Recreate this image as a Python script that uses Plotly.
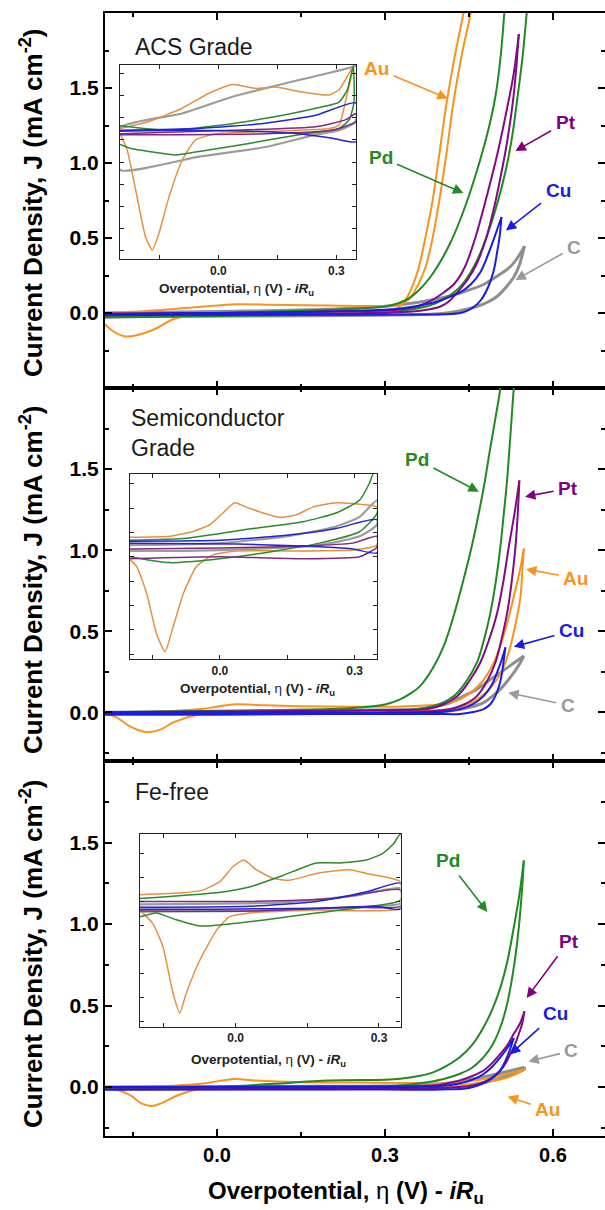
import plotly.graph_objects as go

# ---------------- data: main panels (V vs mA cm^-2), each loop traced forward then back -------------
ACS_AU = [(-0.20, 0.000), (-0.15, 0.008), (-0.10, 0.020), (-0.05, 0.035), (0.00, 0.050), (0.04, 0.058),
          (0.10, 0.055), (0.20, 0.050), (0.28, 0.047), (0.32, 0.052), (0.335, 0.072), (0.345, 0.100),
          (0.358, 0.180), (0.372, 0.300), (0.385, 0.500), (0.397, 0.750), (0.410, 1.070), (0.422, 1.400),
          (0.437, 1.720), (0.453, 2.000), (0.465, 2.300),
          (0.452, 2.300), (0.440, 2.000), (0.425, 1.720), (0.410, 1.400), (0.397, 1.060), (0.385, 0.750),
          (0.372, 0.500), (0.360, 0.300), (0.347, 0.160), (0.337, 0.090), (0.325, 0.040), (0.30, 0.010),
          (0.20, 0.000), (0.10, -0.005), (0.00, -0.008), (-0.04, -0.013), (-0.077, -0.040), (-0.11, -0.105),
          (-0.14, -0.145), (-0.166, -0.155), (-0.19, -0.110), (-0.20, -0.073)]
ACS_PD = [(-0.20, -0.030), (-0.10, -0.025), (0.00, -0.020), (0.10, -0.015), (0.20, -0.010), (0.30, 0.000),
          (0.34, 0.020), (0.38, 0.050), (0.404, 0.090), (0.424, 0.140), (0.440, 0.200), (0.463, 0.340),
          (0.484, 0.534), (0.502, 0.750), (0.517, 0.975), (0.528, 1.200), (0.536, 1.420), (0.546, 1.720),
          (0.553, 2.000), (0.560, 2.300),
          (0.517, 2.300), (0.513, 2.000), (0.505, 1.660), (0.497, 1.440), (0.487, 1.260), (0.476, 1.100),
          (0.461, 0.910), (0.446, 0.740), (0.432, 0.600), (0.417, 0.470), (0.400, 0.350), (0.381, 0.240),
          (0.360, 0.150), (0.339, 0.090), (0.31, 0.050), (0.25, 0.030), (0.10, 0.010), (0.00, 0.000),
          (-0.10, -0.010), (-0.20, -0.020)]
ACS_PT = [(-0.20, -0.015), (0.00, -0.010), (0.20, -0.005), (0.35, 0.010), (0.38, 0.025), (0.40, 0.045),
          (0.415, 0.080), (0.429, 0.137), (0.447, 0.220), (0.464, 0.330), (0.480, 0.490), (0.494, 0.690),
          (0.506, 0.900), (0.518, 1.140), (0.530, 1.460), (0.539, 1.860),
          (0.530, 1.600), (0.521, 1.420), (0.500, 1.050), (0.479, 0.740), (0.462, 0.510), (0.443, 0.310),
          (0.425, 0.200), (0.405, 0.137), (0.37, 0.060), (0.33, 0.025), (0.20, 0.010), (0.00, 0.000),
          (-0.20, -0.005)]
ACS_CU = [(-0.20, -0.012), (0.00, -0.012), (0.20, -0.012), (0.357, -0.010), (0.417, -0.007), (0.440, 0.005),
          (0.458, 0.038), (0.472, 0.090), (0.485, 0.180), (0.494, 0.280), (0.500, 0.400), (0.505, 0.520),
          (0.508, 0.640),
          (0.494, 0.490), (0.483, 0.380), (0.470, 0.270), (0.453, 0.190), (0.434, 0.137), (0.410, 0.100),
          (0.387, 0.070), (0.327, 0.030), (0.20, 0.010), (0.00, 0.000), (-0.20, -0.005)]
ACS_C = [(-0.20, -0.025), (0.10, -0.020), (0.30, -0.015), (0.387, -0.007), (0.420, 0.005), (0.446, 0.026),
         (0.465, 0.045), (0.482, 0.070), (0.500, 0.110), (0.518, 0.180), (0.530, 0.240), (0.539, 0.310),
         (0.549, 0.446),
         (0.537, 0.370), (0.524, 0.310), (0.500, 0.245), (0.476, 0.190), (0.447, 0.150), (0.417, 0.115),
         (0.387, 0.090), (0.357, 0.070), (0.30, 0.045), (0.20, 0.025), (0.00, 0.010), (-0.20, 0.000)]

SEMI_AU = [(-0.20, 0.000), (-0.10, 0.005), (-0.03, 0.020), (0.00, 0.035), (0.034, 0.050), (0.07, 0.045),
           (0.15, 0.038), (0.25, 0.035), (0.32, 0.035), (0.36, 0.040), (0.40, 0.050), (0.434, 0.080),
           (0.456, 0.130), (0.476, 0.200), (0.492, 0.290), (0.506, 0.410), (0.519, 0.560), (0.530, 0.714),
           (0.540, 0.860), (0.548, 1.010),
           (0.545, 0.860), (0.542, 0.714), (0.534, 0.560), (0.524, 0.408), (0.513, 0.290), (0.500, 0.204),
           (0.483, 0.130), (0.464, 0.080), (0.440, 0.040), (0.417, 0.020), (0.35, 0.005), (0.20, 0.000),
           (0.00, -0.005), (-0.028, -0.010), (-0.077, -0.060), (-0.10, -0.105), (-0.122, -0.122),
           (-0.14, -0.110), (-0.158, -0.082), (-0.18, -0.030), (-0.20, -0.010)]
SEMI_PD = [(-0.20, 0.000), (0.00, 0.010), (0.20, 0.020), (0.253, 0.030), (0.302, 0.050), (0.327, 0.080),
           (0.345, 0.115), (0.363, 0.163), (0.385, 0.270), (0.405, 0.410), (0.423, 0.600), (0.440, 0.816),
           (0.454, 1.010), (0.467, 1.220), (0.478, 1.420), (0.488, 1.630), (0.497, 1.810), (0.506, 2.000),
           (0.515, 2.300),
           (0.538, 2.300), (0.530, 2.000), (0.524, 1.710), (0.518, 1.430), (0.512, 1.220), (0.506, 1.020),
           (0.498, 0.810), (0.488, 0.610), (0.477, 0.450), (0.464, 0.306), (0.445, 0.190), (0.423, 0.100),
           (0.400, 0.055), (0.375, 0.030), (0.30, 0.000), (0.00, -0.010), (-0.20, -0.010)]
SEMI_PT = [(-0.20, 0.000), (0.00, 0.005), (0.20, 0.010), (0.30, 0.015), (0.375, 0.020), (0.405, 0.050),
           (0.429, 0.100), (0.450, 0.190), (0.470, 0.306), (0.486, 0.450), (0.500, 0.610), (0.511, 0.800),
           (0.521, 1.020), (0.531, 1.220), (0.540, 1.430),
           (0.537, 1.220), (0.533, 1.020), (0.526, 0.800), (0.518, 0.610), (0.508, 0.450), (0.497, 0.306),
           (0.482, 0.190), (0.464, 0.100), (0.442, 0.050), (0.417, 0.020), (0.35, 0.000), (0.20, -0.010),
           (0.00, -0.015), (-0.20, -0.015)]
SEMI_CU = [(-0.20, 0.000), (0.20, 0.000), (0.386, 0.000), (0.410, 0.005), (0.434, 0.020), (0.457, 0.050),
           (0.476, 0.100), (0.490, 0.165), (0.500, 0.245), (0.508, 0.320), (0.515, 0.400),
           (0.512, 0.320), (0.509, 0.245), (0.504, 0.165), (0.497, 0.100), (0.488, 0.050), (0.476, 0.020),
           (0.455, 0.000), (0.434, -0.010), (0.386, -0.010), (0.20, -0.010), (-0.20, -0.010)]
SEMI_C = [(-0.20, 0.000), (0.20, 0.010), (0.30, 0.015), (0.363, 0.020), (0.390, 0.035), (0.417, 0.060),
          (0.440, 0.100), (0.464, 0.143), (0.485, 0.195), (0.506, 0.245), (0.527, 0.296), (0.548, 0.347),
          (0.540, 0.296), (0.530, 0.245), (0.518, 0.190), (0.506, 0.143), (0.492, 0.100), (0.476, 0.060),
          (0.450, 0.030), (0.417, 0.010), (0.30, 0.000), (-0.20, -0.005)]

FE_AU = [(-0.20, 0.000), (-0.10, 0.005), (-0.03, 0.020), (0.00, 0.035), (0.03, 0.050), (0.07, 0.040),
         (0.15, 0.030), (0.25, 0.028), (0.35, 0.025), (0.40, 0.022), (0.45, 0.035), (0.50, 0.065),
         (0.550, 0.110),
         (0.520, 0.060), (0.480, 0.030), (0.440, 0.012), (0.40, 0.005), (0.30, 0.000), (0.00, -0.005),
         (-0.03, -0.010), (-0.07, -0.050), (-0.10, -0.100), (-0.118, -0.116), (-0.135, -0.100),
         (-0.155, -0.050), (-0.18, -0.015), (-0.20, -0.005)]
FE_PD = [(-0.20, -0.005), (0.00, 0.000), (0.10, 0.020), (0.20, 0.040), (0.30, 0.045), (0.327, 0.051),
         (0.360, 0.068), (0.387, 0.092), (0.410, 0.130), (0.434, 0.184), (0.456, 0.260), (0.476, 0.367),
         (0.492, 0.480), (0.506, 0.610), (0.519, 0.780), (0.530, 0.980), (0.540, 1.180), (0.548, 1.390),
         (0.544, 1.180), (0.539, 0.980), (0.532, 0.780), (0.524, 0.610), (0.516, 0.480), (0.506, 0.367),
         (0.492, 0.260), (0.476, 0.184), (0.456, 0.120), (0.434, 0.082), (0.405, 0.050), (0.375, 0.030),
         (0.327, 0.010), (0.20, 0.000), (0.00, -0.010), (-0.20, -0.015)]
FE_PT = [(-0.20, 0.000), (0.20, 0.005), (0.387, 0.010), (0.410, 0.022), (0.434, 0.041), (0.456, 0.068),
         (0.476, 0.102), (0.492, 0.150), (0.506, 0.204), (0.519, 0.260), (0.530, 0.327), (0.541, 0.390),
         (0.549, 0.465),
         (0.545, 0.390), (0.539, 0.327), (0.532, 0.260), (0.524, 0.204), (0.516, 0.150), (0.506, 0.102),
         (0.492, 0.060), (0.476, 0.030), (0.456, 0.010), (0.434, 0.000), (0.30, -0.010), (-0.20, -0.015)]
FE_CU = [(-0.20, 0.000), (0.20, 0.000), (0.39, 0.005), (0.43, 0.020), (0.46, 0.050), (0.476, 0.080),
         (0.49, 0.120), (0.51, 0.200), (0.53, 0.300),
         (0.525, 0.250), (0.52, 0.200), (0.505, 0.100), (0.48, 0.030), (0.45, -0.005), (0.40, -0.015),
         (0.30, -0.015), (-0.20, -0.015)]
FE_C = [(-0.20, 0.000), (0.20, 0.005), (0.35, 0.010), (0.40, 0.020), (0.45, 0.045), (0.50, 0.080),
        (0.549, 0.122),
        (0.549, 0.110), (0.52, 0.070), (0.48, 0.030), (0.44, 0.010), (0.40, 0.000), (0.20, -0.010),
        (-0.20, -0.010)]

# ---------------- data: insets ----------------
ACS_IN_AU = [(-0.25, -0.012), (-0.176, -0.004), (-0.092, 0.011), (-0.024, 0.028), (0.036, 0.038),
             (0.095, 0.0335), (0.146, 0.035), (0.205, 0.030), (0.282, 0.026), (0.307, 0.032), (0.328, 0.047),
             (0.343, 0.059), (0.324, 0.020), (0.307, -0.008), (0.282, -0.012), (0.205, -0.014), (0.078, -0.016),
             (-0.007, -0.018), (-0.058, -0.025), (-0.092, -0.048), (-0.125, -0.089), (-0.151, -0.131),
             (-0.168, -0.150), (-0.185, -0.135), (-0.21, -0.082), (-0.232, -0.036), (-0.25, -0.018)]
ACS_IN_C = [(-0.25, -0.059), (-0.25, -0.011), (-0.092, 0.005), (0.036, 0.024), (0.205, 0.043), (0.343, 0.058),
            (0.35, 0.060), (0.35, -0.004), (0.307, -0.014), (0.248, -0.019), (0.12, -0.033), (-0.049, -0.044),
            (-0.25, -0.059)]
ACS_IN_PD = [(-0.25, -0.009), (-0.134, -0.014), (-0.007, -0.009), (0.12, -0.0005), (0.248, 0.011),
             (0.307, 0.018), (0.328, 0.032), (0.343, 0.059), (0.345, 0.018), (0.333, -0.002), (0.307, -0.012),
             (0.205, -0.019), (0.078, -0.029), (-0.049, -0.038), (-0.108, -0.042), (-0.176, -0.038),
             (-0.219, -0.035), (-0.25, -0.030)]
ACS_IN_CU = [(-0.25, -0.014), (-0.049, -0.012), (0.12, -0.006), (0.248, 0.003), (0.35, 0.017), (0.35, -0.027),
             (0.29, -0.023), (0.205, -0.018), (0.078, -0.015), (-0.092, -0.014), (-0.25, -0.015)]
ACS_IN_PT = [(-0.25, -0.018), (0.036, -0.014), (0.248, -0.010), (0.324, -0.002), (0.35, 0.005), (0.35, -0.004),
             (0.29, -0.014), (0.12, -0.018), (-0.092, -0.019), (-0.25, -0.019)]

SEMI_IN_AU = [(-0.2, -0.005), (-0.111, -0.004), (-0.059, 0.001), (-0.022, 0.008), (0.007, 0.020),
              (0.033, 0.0305), (0.059, 0.026), (0.096, 0.020), (0.133, 0.0155), (0.17, 0.018), (0.207, 0.026),
              (0.259, 0.0305), (0.311, 0.029), (0.35, 0.026), (0.35, -0.013), (0.296, -0.018), (0.148, -0.019),
              (0.037, -0.019), (-0.015, -0.023), (-0.052, -0.035), (-0.081, -0.0625), (-0.104, -0.097),
              (-0.122, -0.1225), (-0.141, -0.104), (-0.163, -0.0625), (-0.185, -0.035), (-0.2, -0.028)]
SEMI_IN_PD = [(-0.2, -0.008), (-0.074, -0.006), (0.074, 0.004), (0.185, 0.011), (0.259, 0.020), (0.311, 0.033),
              (0.333, 0.0505), (0.342, 0.0613), (0.35, 0.066), (0.35, 0.0196), (0.311, 0.0007), (0.222, -0.011),
              (0.111, -0.020), (0.0, -0.027), (-0.111, -0.031), (-0.163, -0.028), (-0.2, -0.025)]
SEMI_IN_C = [(-0.2, -0.013), (0.0, -0.011), (0.148, -0.004), (0.259, 0.006), (0.311, 0.016), (0.35, 0.033),
             (0.35, 0.008), (0.311, -0.004), (0.222, -0.013), (0.074, -0.017), (-0.074, -0.019), (-0.2, -0.019)]
SEMI_IN_CU = [(-0.2, -0.009), (0.0, -0.008), (0.148, -0.003), (0.259, 0.004), (0.35, 0.013), (0.35, -0.021),
              (0.296, -0.017), (0.185, -0.014), (0.037, -0.012), (-0.2, -0.011)]
SEMI_IN_PT = [(-0.2, -0.017), (0.0, -0.016), (0.185, -0.014), (0.296, -0.011), (0.35, -0.004), (0.35, -0.015),
              (0.311, -0.025), (0.185, -0.027), (0.0, -0.025), (-0.2, -0.027)]

FE_IN_AU = [(-0.2, 0.007), (-0.11, 0.009), (-0.068, 0.012), (-0.033, 0.0205), (-0.006, 0.036), (0.017, 0.043),
            (0.043, 0.033), (0.078, 0.024), (0.113, 0.022), (0.169, 0.029), (0.239, 0.033), (0.274, 0.029),
            (0.345, 0.0205), (0.345, -0.007), (0.169, -0.009), (0.029, -0.012), (-0.013, -0.016),
            (-0.04, -0.030), (-0.075, -0.061), (-0.103, -0.095), (-0.117, -0.116), (-0.131, -0.095),
            (-0.152, -0.047), (-0.173, -0.023), (-0.2, -0.009)]
FE_IN_PD = [(-0.2, 0.003), (-0.04, 0.009), (0.029, 0.015), (0.099, 0.027), (0.169, 0.040), (0.218, 0.040),
            (0.274, 0.043), (0.308, 0.050), (0.329, 0.059), (0.345, 0.070), (0.345, 0.0015), (0.274, -0.0055),
            (0.169, -0.012), (0.064, -0.019), (-0.006, -0.023), (-0.075, -0.0255), (-0.124, -0.019),
            (-0.166, -0.012), (-0.2, -0.016)]
FE_IN_CU = [(-0.2, -0.006), (0.029, -0.005), (0.169, 0.0), (0.274, 0.010), (0.345, 0.019), (0.345, -0.008),
            (0.294, -0.005), (0.169, -0.007), (-0.04, -0.008), (-0.2, -0.008)]
FE_IN_PT = [(-0.2, 0.0), (0.029, 0.0), (0.204, 0.003), (0.345, 0.012), (0.345, -0.005), (0.239, -0.006),
            (0.029, -0.010), (-0.2, -0.010)]
FE_IN_C = [(-0.2, -0.003), (0.1, -0.001), (0.25, 0.006), (0.345, 0.0136), (0.345, -0.002), (0.2, -0.007),
           (0.0, -0.010), (-0.2, -0.0106)]

PANEL_NAMES = ["ACS Grade", "Semiconductor<br>Grade", "Fe-free"]
MAIN_Y_TICKS = [0.0, 0.5, 1.0, 1.5]
MAIN_Y_TICKTEXT = ["0.0", "0.5", "1.0", "1.5"]
MAIN_Y_MINOR = [-0.25, 0.25, 0.75, 1.25, 1.75]
MAIN_X_TICKS = [0.0, 0.3, 0.6]
MAIN_X_TICKTEXT = ["0.0", "0.3", "0.6"]
MAIN_X_MINOR = [-0.15, 0.15, 0.45]
INSET_X_TICKS = [0.0, 0.3]
INSET_X_TICKTEXT = ["0.0", "0.3"]
INSET_X_MINOR = [-0.15, 0.15]

# metal labels with arrows: (panel, metal, arrow tip V, tip J, label V, label J)
LABELS = [
    (1, "Au", 0.412, 1.43, 0.285, 1.63),
    (1, "Pd", 0.440, 0.80, 0.292, 1.04),
    (1, "Pt", 0.533, 1.08, 0.6225, 1.27),
    (1, "Cu", 0.516, 0.55, 0.609, 0.82),
    (1, "C", 0.533, 0.22, 0.6377, 0.44),
    (2, "Pd", 0.4675, 1.36, 0.357, 1.56),
    (2, "Pt", 0.550, 1.33, 0.627, 1.38),
    (2, "Au", 0.5518, 0.883, 0.641, 0.826),
    (2, "Cu", 0.530, 0.404, 0.633, 0.503),
    (2, "C", 0.520, 0.121, 0.626, 0.045),
    (3, "Pd", 0.4827, 1.074, 0.4116, 1.39),
    (3, "Pt", 0.553, 0.546, 0.628, 0.894),
    (3, "Cu", 0.5232, 0.200, 0.605, 0.454),
    (3, "C", 0.556, 0.157, 0.633, 0.223),
    (3, "Au", 0.519, -0.058, 0.5905, -0.139),
]

# ---------------- styling ----------------
FONT = "Liberation Sans"
MAIN_COL = {"Au": "#F7931E", "Pd": "#1F8A1F", "Pt": "#820A82", "Cu": "#1A1AE6", "C": "#8E8E8E"}
INS_COL = {"Au": "#E4913F", "Pd": "#2B8A2B", "Pt": "#7E2A80", "Cu": "#2323D0", "C": "#9C9C9C"}
LBL_COL = {"Au": "#F7931E", "Pd": "#228B22", "Pt": "#800080", "Cu": "#1A1AE6", "C": "#999999"}

W, H = 605, 1210
ML, MR, MT, MB = 105, 0, 13, 74
PW, PH = W - ML - MR, H - MT - MB


def xd(l, r):
    return [(l - ML) / PW, (r - ML) / PW]


def yd(top, bot):
    return [(H - MB - bot) / PH, (H - MB - top) / PH]


panels = [
    dict(main={"C": ACS_C, "Au": ACS_AU, "Pd": ACS_PD, "Pt": ACS_PT, "Cu": ACS_CU},
         inset={"C": ACS_IN_C, "Au": ACS_IN_AU, "Pd": ACS_IN_PD, "Pt": ACS_IN_PT, "Cu": ACS_IN_CU},
         ydom=yd(13, 388), yrange=[-0.5, 2.0],
         ixdom=xd(120, 356), iydom=yd(65, 259), ixrange=[-0.25, 0.35], iyrange=[-0.16, 0.06]),
    dict(main={"C": SEMI_C, "Au": SEMI_AU, "Pd": SEMI_PD, "Pt": SEMI_PT, "Cu": SEMI_CU},
         inset={"C": SEMI_IN_C, "Au": SEMI_IN_AU, "Pd": SEMI_IN_PD, "Pt": SEMI_IN_PT, "Cu": SEMI_IN_CU},
         ydom=yd(388, 761), yrange=[-0.3, 2.0],
         ixdom=xd(130, 377), iydom=yd(474, 659), ixrange=[-0.2, 0.35], iyrange=[-0.13, 0.06]),
    dict(main={"C": FE_C, "Au": FE_AU, "Pd": FE_PD, "Pt": FE_PT, "Cu": FE_CU},
         inset={"C": FE_IN_C, "Au": FE_IN_AU, "Pd": FE_IN_PD, "Pt": FE_IN_PT, "Cu": FE_IN_CU},
         ydom=yd(761, 1136), yrange=[-0.3, 2.0],
         ixdom=xd(140, 400.5), iydom=yd(834, 1026.7), ixrange=[-0.2, 0.345], iyrange=[-0.13, 0.07]),
]

fig = go.Figure()
tickfont_y = dict(family=FONT, size=21, color="black", weight="bold")
tickfont_x = dict(family=FONT, size=20, color="black", weight="bold")
layout = {}


def branches(pts):
    """split a CV loop at its vertex (highest current) so the turning point stays sharp"""
    k = max(range(len(pts)), key=lambda i: pts[i][1])
    return [pts[:k + 1], pts[k:]]


for i, p in enumerate(panels):
    n = i + 1
    xa, ya = ("x" if n == 1 else f"x{n}"), ("y" if n == 1 else f"y{n}")
    ixa, iya = f"x{n + 3}", f"y{n + 3}"
    ra = f"y{n + 6}"
    for name, pts in p["main"].items():
        for br in branches(pts):
            fig.add_trace(go.Scatter(x=[v for v, _ in br], y=[j for _, j in br], mode="lines",
                                     line=dict(color=MAIN_COL[name], width=3 if name == "C" else 2,
                                               shape="spline", smoothing=1.0),
                                     xaxis=xa, yaxis=ya, showlegend=False, hoverinfo="skip"))
    for name, pts in p["inset"].items():
        fig.add_trace(go.Scatter(x=[v for v, _ in pts], y=[j for _, j in pts], mode="lines",
                                 line=dict(color=INS_COL[name], width=2.2 if name == "C" else 1.5,
                                           shape="spline", smoothing=0.5),
                                 xaxis=ixa, yaxis=iya, showlegend=False, hoverinfo="skip"))
    fig.add_trace(go.Scatter(x=[None], y=[None], xaxis=xa, yaxis=ra, showlegend=False, hoverinfo="skip"))

    layout["xaxis" if n == 1 else f"xaxis{n}"] = dict(
        domain=[0, 1], anchor=ya, range=[-0.2, -0.2 + PW / 560.0],
        showline=True, linecolor="black", linewidth=2, mirror="ticks",
        ticks="inside", ticklen=7, tickwidth=2, tickcolor="black",
        tickmode="array", tickvals=MAIN_X_TICKS, ticktext=MAIN_X_TICKTEXT,
        minor=dict(tickmode="array", tickvals=MAIN_X_MINOR, ticks="inside", ticklen=4, tickwidth=2,
                   tickcolor="black"),
        showticklabels=(n == 3), tickfont=tickfont_x, showgrid=False, zeroline=False)
    ycfg = dict(domain=p["ydom"], range=p["yrange"], showgrid=False, zeroline=False,
                ticks="inside", ticklen=7, tickwidth=2, tickcolor="black",
                tickmode="array", tickvals=MAIN_Y_TICKS, ticktext=MAIN_Y_TICKTEXT,
                minor=dict(tickmode="array", tickvals=MAIN_Y_MINOR, ticks="inside", ticklen=4, tickwidth=2,
                           tickcolor="black"))
    layout["yaxis" if n == 1 else f"yaxis{n}"] = dict(
        ycfg, anchor=xa, showline=True, linecolor="black", linewidth=2, tickfont=tickfont_y)
    layout[f"yaxis{n + 6}"] = dict(ycfg, overlaying=ya, side="right", anchor=xa, showline=False,
                                   showticklabels=False)
    layout[f"xaxis{n + 3}"] = dict(
        domain=p["ixdom"], anchor=iya, range=p["ixrange"], showline=True, linecolor="#222", linewidth=1.3,
        mirror="ticks", ticks="inside", ticklen=4, tickwidth=1, tickcolor="#222",
        tickmode="array", tickvals=INSET_X_TICKS, ticktext=INSET_X_TICKTEXT,
        minor=dict(tickmode="array", tickvals=INSET_X_MINOR, ticks="inside", ticklen=4, tickwidth=1,
                   tickcolor="#222"),
        tickfont=dict(family=FONT, size=12, color="#222", weight="bold"), showgrid=False, zeroline=False)
    layout[f"yaxis{n + 3}"] = dict(
        domain=p["iydom"], anchor=ixa, range=p["iyrange"], showline=True, linecolor="#222", linewidth=1.3,
        mirror="ticks", ticks="inside", ticklen=4, tickwidth=1, tickcolor="#222", dtick=0.025,
        showticklabels=False, showgrid=False, zeroline=False)

fig.update_layout(**layout)

annotations = []
# panel names
for txt, (px, py) in zip(PANEL_NAMES, [(133, 47), (128.6, 433), (133.2, 792)]):
    annotations.append(dict(text=txt, xref="paper", yref="paper", x=(px - ML) / PW, y=(H - MB - py) / PH,
                            xanchor="left", yanchor="middle", align="left", showarrow=False,
                            font=dict(family=FONT, size=23, color="#1a1a1a")))
# y titles
for cy in [203, 580, 954]:
    annotations.append(dict(text="<b>Current Density, J (mA cm<sup>-2</sup>)</b>", xref="paper", yref="paper",
                            x=(31 - ML) / PW, y=(H - MB - cy) / PH, textangle=-90, showarrow=False,
                            xanchor="center", yanchor="middle",
                            font=dict(family=FONT, size=26, color="black")))
# main x title
annotations.append(dict(text="<b>Overpotential, </b>η<b> (V) - <i>iR</i><sub>u</sub></b>", xref="paper",
                        yref="paper", x=(346 - ML) / PW, y=(H - MB - 1192) / PH, showarrow=False,
                        xanchor="center", yanchor="middle", font=dict(family=FONT, size=24, color="black")))
# inset x titles
for cx, cy in [(236, 290), (257, 689), (268, 1060)]:
    annotations.append(dict(text="<b>Overpotential, </b>η<b> (V) - <i>iR</i><sub>u</sub></b>", xref="paper",
                            yref="paper", x=(cx - ML) / PW, y=(H - MB - cy) / PH, showarrow=False,
                            xanchor="center", yanchor="middle", font=dict(family=FONT, size=13.5, color="#222")))

for n, m, hx, hy, tx, ty in LABELS:
    xr, yr = ("x" if n == 1 else f"x{n}"), ("y" if n == 1 else f"y{n}")
    annotations.append(dict(text=f"<b>{m}</b>", x=hx, y=hy, xref=xr, yref=yr, showarrow=True,
                            ax=tx, ay=ty, axref=xr, ayref=yr, borderpad=4,
                            arrowhead=2, arrowsize=1.3, arrowwidth=1.6, arrowcolor=LBL_COL[m],
                            font=dict(family=FONT, size=19, color=LBL_COL[m])))

fig.update_layout(width=W, height=H, margin=dict(l=ML, r=MR, t=MT, b=MB, pad=0), autosize=False,
                  paper_bgcolor="white", plot_bgcolor="white", annotations=annotations,
                  font=dict(family=FONT))

fig.write_html("out.html")
